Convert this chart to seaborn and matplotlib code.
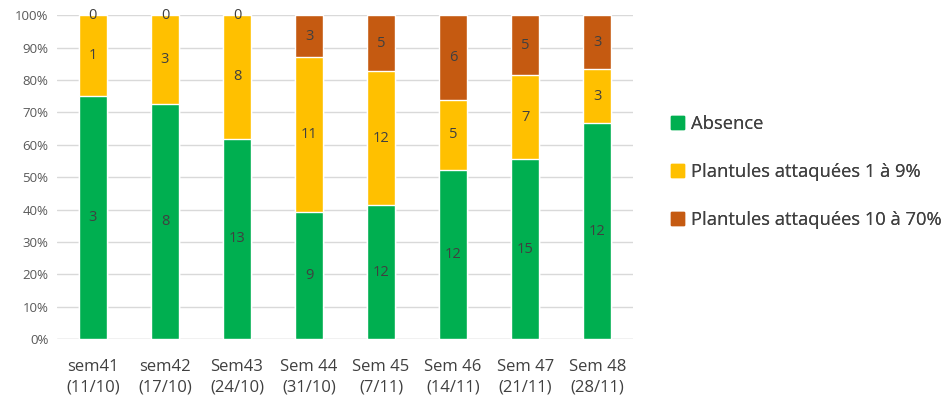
import numpy as np
import pandas as pd
import matplotlib
matplotlib.use("Agg")
import matplotlib.pyplot as plt
import seaborn as sns
from matplotlib.patches import Patch

categories = ["sem41\n(11/10)", "sem42\n(17/10)", "Sem43\n(24/10)", "Sem 44\n(31/10)",
              "Sem 45\n(7/11)", "Sem 46\n(14/11)", "Sem 47\n(21/11)", "Sem 48\n(28/11)"]
absence = [3, 8, 13, 9, 12, 12, 15, 12]
att_1_9 = [1, 3, 8, 11, 12, 5, 7, 3]
att_10_70 = [0, 0, 0, 3, 5, 6, 5, 3]
series_names = ["Absence", "Plantules attaquées 1 à 9%", "Plantules attaquées 10 à 70%"]
colors = ["#00AF50", "#FFC000", "#C55A11"]

sns.set_theme(style="white")
plt.rcParams['font.family'] = ['Open Sans', 'DejaVu Sans']

df = pd.DataFrame({"cat": categories, "a": absence, "b": att_1_9, "c": att_10_70})
tot = df[["a", "b", "c"]].sum(axis=1)
pa = df["a"] / tot * 100
pb = df["b"] / tot * 100
pc = df["c"] / tot * 100
cum1 = pa
cum2 = pa + pb
cum3 = cum2 + pc

fig = plt.figure(figsize=(9.48, 3.99), dpi=100)
ax = fig.add_axes([0.06, 0.15, 0.608, 0.812])

for cum, col in zip([cum3, cum2, cum1], colors[::-1]):
    sns.barplot(x=df["cat"], y=cum, color=col, width=0.39, saturation=1, ax=ax, zorder=2)

txtc = "#404040"
for i in range(len(categories)):
    segs = [(0, cum1[i], absence[i]), (cum1[i], cum2[i], att_1_9[i]), (cum2[i], cum3[i], att_10_70[i])]
    for lo, hi, v in segs:
        ax.text(i, (lo + hi) / 2, str(v), ha="center", va="center", fontsize=10.5, color=txtc, zorder=3)

ax.set_ylim(0, 100)
ax.set_xlim(-0.5, len(categories) - 0.5)
ax.set_yticks(np.arange(0, 101, 10))
ax.set_yticklabels([f"{t}%" for t in range(0, 101, 10)])
ax.yaxis.grid(True, color="#D9D9D9", linewidth=1, zorder=0)
ax.set_axisbelow(True)
for s in ax.spines.values():
    s.set_visible(False)
ax.set_xlabel("")
ax.set_ylabel("")
ax.tick_params(axis="y", labelsize=9.5, colors="#595959", length=0, pad=6)
ax.tick_params(axis="x", labelsize=12, colors="#404040", length=0, pad=14)
for t in ax.get_xticklabels():
    t.set_linespacing(1.42)
ax.axhline(0, color="#D9D9D9", linewidth=1, zorder=1)

ypos = [124, 172, 220]
for name, col, yp in zip(series_names, colors, ypos):
    leg = fig.legend(handles=[Patch(facecolor=col, edgecolor=col)], labels=[name],
                     loc="center left", bbox_to_anchor=(671 / 948, 1 - yp / 399), frameon=False,
                     borderpad=0, borderaxespad=0,
                     fontsize=13.2, handlelength=0.7, handleheight=0.7, handletextpad=0.4)
    for t in leg.get_texts():
        t.set_color("#404040")
    fig.add_artist(leg)

fig.savefig("out.png", dpi=100)
